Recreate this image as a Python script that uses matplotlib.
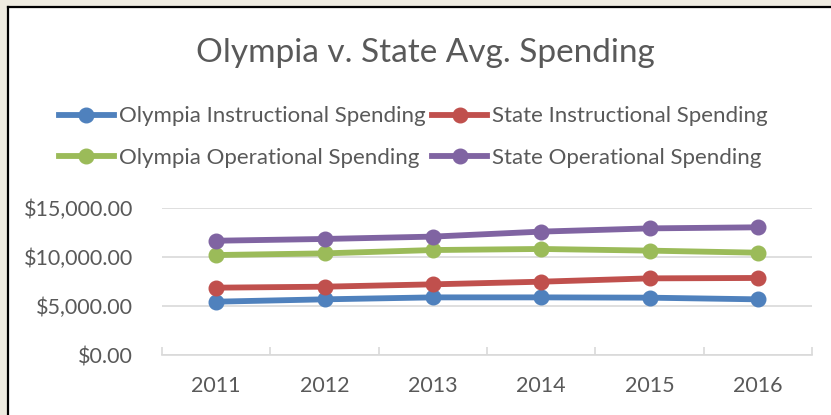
import matplotlib.pyplot as plt
from matplotlib.patches import Rectangle
from matplotlib.lines import Line2D
from matplotlib.ticker import FuncFormatter

plt.rcParams['font.family'] = ['Lato', 'DejaVu Sans']

years = ["2011", "2012", "2013", "2014", "2015", "2016"]
olympia_instr = [5440, 5680, 5880, 5880, 5850, 5680]
state_instr = [6870, 6970, 7210, 7480, 7820, 7860]
olympia_oper = [10200, 10370, 10710, 10820, 10650, 10440]
state_oper = [11660, 11840, 12080, 12590, 12920, 13030]

series = [
    ("Olympia Instructional Spending", olympia_instr, "#4F81BD"),
    ("State Instructional Spending", state_instr, "#C0504D"),
    ("Olympia Operational Spending", olympia_oper, "#9BBB59"),
    ("State Operational Spending", state_oper, "#8064A2"),
]

W, H = 831, 415
fig = plt.figure(figsize=(W / 100, H / 100), dpi=100)
fig.patch.set_facecolor("white")

# beige outer strip + black frame on left and top
beige = "#EEEBE0"
fig.patches.append(Rectangle((0, 0), 7 / W, 1, transform=fig.transFigure, color=beige, zorder=0))
fig.patches.append(Rectangle((0, 1 - 7 / H), 1, 7 / H, transform=fig.transFigure, color=beige, zorder=0))
fig.lines.append(Line2D([7.5 / W, 7.5 / W], [0, 1 - 7.5 / H], transform=fig.transFigure, color="black", lw=1.6))
fig.lines.append(Line2D([7.5 / W, 1], [1 - 7.5 / H, 1 - 7.5 / H], transform=fig.transFigure, color="black", lw=1.6))

ax = fig.add_axes([162 / W, 60 / H, 650 / W, 147 / H])
x = range(len(years))
handles = {}
for name, vals, col in series:
    h, = ax.plot(x, vals, color=col, lw=4.2, marker="o", ms=10.5, label=name)
    handles[name] = h

ax.set_xlim(-0.5, len(years) - 0.5)
ax.set_ylim(0, 15000)
ax.set_yticks([0, 5000, 10000, 15000])
ax.yaxis.set_major_formatter(FuncFormatter(lambda v, p: "${:,.2f}".format(v)))
ax.set_xticks(list(x))
ax.set_xticklabels(years)
ax.grid(axis="y", color="#D9D9D9", lw=1.2)
ax.set_axisbelow(True)
for s in ["top", "right", "left"]:
    ax.spines[s].set_visible(False)
ax.spines["bottom"].set_color("#D9D9D9")
ax.spines["bottom"].set_linewidth(1.2)
ax.set_xticks([i + 0.5 for i in range(-1, len(years))], minor=True)
ax.tick_params(axis="x", which="major", length=0, pad=15, labelsize=15.5, labelcolor="#595959")
ax.tick_params(axis="x", which="minor", length=6, color="#D9D9D9", width=1.2, direction="in")
ax.tick_params(axis="y", length=0, pad=21, labelsize=15.5, labelcolor="#595959")

fig.text(425 / W, 1 - 53 / H, "Olympia v. State Avg. Spending", ha="center", va="center",
         fontsize=24, color="#595959")

order = ["Olympia Instructional Spending", "Olympia Operational Spending",
         "State Instructional Spending", "State Operational Spending"]
leg = fig.legend([handles[n] for n in order], order, ncol=2, loc="center",
                 bbox_to_anchor=(413 / W, 1 - 137 / H), frameon=False, fontsize=16,
                 handlelength=2.5, handletextpad=0.2, columnspacing=0.3, labelspacing=0.95,
                 borderaxespad=0)
for t in leg.get_texts():
    t.set_color("#595959")

fig.savefig("out.png", dpi=100)
